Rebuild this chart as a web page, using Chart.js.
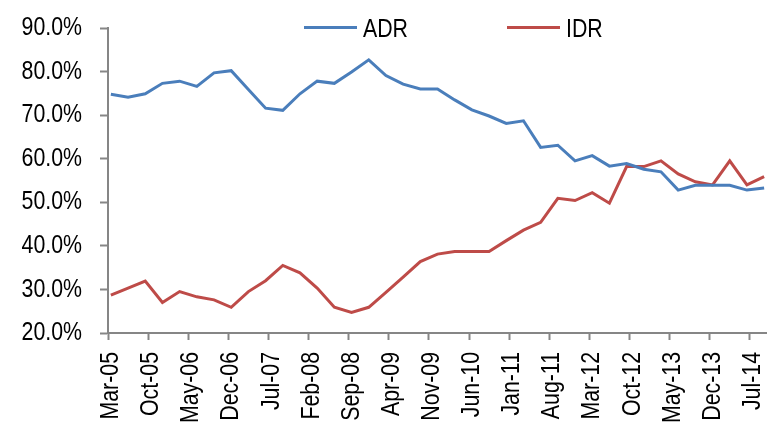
<!DOCTYPE html>
<html>
<head>
<meta charset="utf-8">
<script src="https://cdn.jsdelivr.net/npm/chart.js@4.4.1/dist/chart.umd.min.js"></script>
<style>
  body { margin: 0; background: #ffffff; }
  #wrap { width: 767px; height: 424px; }
</style>
</head>
<body>
<div id="wrap"><canvas id="myChart" width="767" height="424"></canvas></div>
<script>
"use strict";

// quarter end of each point
const quarters = [
  "Mar-05", "Jun-05", "Sep-05", "Dec-05", "Mar-06", "Jun-06", "Sep-06", "Dec-06",
  "Mar-07", "Jun-07", "Sep-07", "Dec-07", "Mar-08", "Jun-08", "Sep-08", "Dec-08",
  "Mar-09", "Jun-09", "Sep-09", "Dec-09", "Mar-10", "Jun-10", "Sep-10", "Dec-10",
  "Mar-11", "Jun-11", "Sep-11", "Dec-11", "Mar-12", "Jun-12", "Sep-12", "Dec-12",
  "Mar-13", "Jun-13", "Sep-13", "Dec-13", "Mar-14", "Jun-14", "Sep-14"
];
const adr = [
  74.8, 74.1, 74.9, 77.3, 77.8, 76.6, 79.7, 80.2,
  75.9, 71.6, 71.1, 74.9, 77.8, 77.3, 79.9, 82.7,
  79.1, 77.1, 76.0, 76.0, 73.5, 71.2, 69.8, 68.1,
  68.7, 62.6, 63.1, 59.5, 60.7, 58.3, 58.9, 57.6,
  57.0, 52.8, 53.9, 53.9, 53.9, 52.8, 53.3
];
const idr = [
  28.7, 30.3, 31.9, 27.0, 29.5, 28.3, 27.6, 25.9,
  29.5, 32.0, 35.5, 33.8, 30.3, 25.9, 24.7, 25.9,
  29.3, 32.8, 36.4, 38.1, 38.7, 38.7, 38.7, 41.2,
  43.6, 45.4, 50.9, 50.4, 52.2, 49.8, 58.2, 58.2,
  59.5, 56.5, 54.7, 54.0, 59.5, 54.0, 55.9
];
// labels on the date axis (every 7 months)
const tickLabels = [
  "Mar-05", "Oct-05", "May-06", "Dec-06", "Jul-07", "Feb-08", "Sep-08", "Apr-09",
  "Nov-09", "Jun-10", "Jan-11", "Aug-11", "Mar-12", "Oct-12", "May-13", "Dec-13", "Jul-14"
];
const yTicks = [20, 30, 40, 50, 60, 70, 80, 90];

const fontFamily = "'Liberation Sans', Arial, sans-serif";
const axisGray = "#868686";
const blue = "#4A7EBB";
const red = "#BE4B48";

// month list, the x axis runs in months like a date axis
const monthNames = ["Jan", "Feb", "Mar", "Apr", "May", "Jun", "Jul", "Aug", "Sep", "Oct", "Nov", "Dec"];
let allMonths = [];
for (let y = 2005; y <= 2014; y++) {
  for (let m = 0; m < 12; m++) {
    allMonths.push(monthNames[m] + "-" + String(y).slice(2));
  }
}
const months = allMonths.slice(
  allMonths.indexOf(quarters[0]),
  allMonths.indexOf(quarters[quarters.length - 1]) + 1
);

function toPoints(values) {
  let points = [];
  for (let i = 0; i < values.length; i++) {
    points.push({ x: months.indexOf(quarters[i]), y: values[i] });
  }
  return points;
}

// the original text is Arial Narrow: squeeze Liberation Sans to match
const canvasEl = document.getElementById("myChart");
const ctx2d = canvasEl.getContext("2d");
const fillTextPlain = ctx2d.fillText;
ctx2d.fillText = function (text, x, y, maxWidth) {
  this.save();
  this.translate(x, y);
  this.scale(0.82, 1);
  fillTextPlain.call(this, text, 0, 0);
  this.restore();
};

// legend drawn by hand: a line and the name
const lineLegend = {
  id: "lineLegend",
  afterDraw(chart) {
    const ctx = chart.ctx;
    const starts = [304, 507];
    chart.data.datasets.forEach(function (ds, i) {
      const x = starts[i];
      ctx.save();
      ctx.strokeStyle = ds.borderColor;
      ctx.lineWidth = 3;
      ctx.beginPath();
      ctx.moveTo(x, 27.5);
      ctx.lineTo(x + 53, 27.5);
      ctx.stroke();
      ctx.fillStyle = "#000000";
      ctx.font = "26px " + fontFamily;
      ctx.textAlign = "left";
      ctx.textBaseline = "alphabetic";
      ctx.fillText(ds.label, x + 59, 36.5);
      ctx.restore();
    });
  }
};

const data = {
  datasets: [
    {
      label: "ADR",
      data: toPoints(adr),
      borderColor: blue,
      backgroundColor: blue,
      borderWidth: 3,
      pointRadius: 0,
      tension: 0
    },
    {
      label: "IDR",
      data: toPoints(idr),
      borderColor: red,
      backgroundColor: red,
      borderWidth: 3,
      pointRadius: 0,
      tension: 0
    }
  ]
};

const config = {
  type: "line",
  data: data,
  plugins: [lineLegend],
  options: {
    responsive: false,
    animation: false,
    layout: { padding: { top: 28, left: 0, right: -1, bottom: 0 } },
    plugins: {
      legend: { display: false },
      tooltip: { enabled: false }
    },
    scales: {
      x: {
        type: "linear",
        min: -0.5,
        max: months.length - 0.5,
        border: { color: axisGray, width: 2 },
        grid: {
          drawOnChartArea: false,
          tickLength: 7,
          tickWidth: 2,
          tickColor: axisGray
        },
        // tick marks sit on month boundaries, labels in the month middle
        afterBuildTicks: function (scale) {
          scale.ticks = tickLabels.map(function (l) {
            return { value: months.indexOf(l) - 0.5 };
          });
        },
        ticks: {
          autoSkip: false,
          minRotation: 90,
          maxRotation: 90,
          padding: 12,
          labelOffset: 2.9,
          color: "#000000",
          font: { family: fontFamily, size: 26 },
          callback: function (value) {
            return months[value + 0.5];
          }
        },
        afterFit: function (scale) {
          scale.height = 91;
          scale.paddingLeft = 0;
          scale.paddingRight = 0;
        }
      },
      y: {
        min: yTicks[0],
        max: yTicks[yTicks.length - 1],
        border: { color: axisGray, width: 2 },
        grid: {
          drawOnChartArea: false,
          tickLength: 8,
          tickWidth: 2,
          tickColor: axisGray
        },
        ticks: {
          stepSize: 10,
          padding: 18,
          color: "#000000",
          font: { family: fontFamily, size: 26 },
          callback: function (value) {
            return value.toFixed(1) + "%";
          }
        },
        afterFit: function (scale) {
          scale.width = 108;
          scale.paddingTop = 0;
          scale.paddingBottom = 0;
        }
      }
    }
  }
};

const myChart = new Chart(canvasEl, config);
</script>
</body>
</html>
